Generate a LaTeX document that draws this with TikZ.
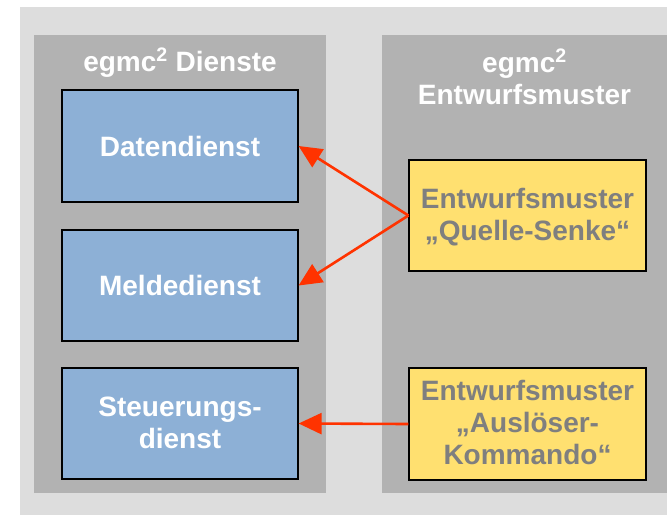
\documentclass[tikz,border=0pt]{standalone}
\usepackage{fontspec}
\setmainfont{Liberation Sans}
\usetikzlibrary{arrows.meta,shadows}
\definecolor{bgl}{HTML}{DDDDDD}
\definecolor{panelgray}{HTML}{B2B2B2}
\definecolor{bluebox}{HTML}{8DB0D6}
\definecolor{yellowbox}{HTML}{FFE070}
\definecolor{txtgray}{HTML}{7F7F7F}
\definecolor{arrowred}{HTML}{FF3300}
\newcommand{\boxtxt}[1]{\raisebox{-2.5pt}[\height][\depth]{\begin{tabular}{@{}c@{}}#1\end{tabular}}}
\begin{document}
\begin{tikzpicture}[x=1pt,y=-1pt,
  txt/.style={font=\bfseries\fontsize{28}{32}\selectfont, inner sep=0pt},
  panelbox/.style={rectangle, fill=panelgray, draw=none, inner sep=0pt},
  titletxt/.style={txt, text=white, anchor=base},
  svcbox/.style={rectangle, draw=black, line width=1.2pt, fill=bluebox,
    minimum width=236pt, minimum height=111pt, txt, text=white,
    drop shadow={shadow xshift=1.2pt, shadow yshift=-1.2pt, fill=black!75, opacity=1}},
  patbox/.style={rectangle, draw=black, line width=1.2pt, fill=yellowbox,
    minimum width=237pt, minimum height=111pt, txt, text=txtgray,
    drop shadow={shadow xshift=1.2pt, shadow yshift=-1.2pt, fill=black!75, opacity=1}},
  arr/.style={draw=arrowred, line width=2.6pt, -{Triangle[length=23pt,width=21pt]}}
]
\useasboundingbox (0,0) rectangle (667,515);
\fill[white] (0,0) rectangle (667,515);
\fill[bgl] (20,7) rectangle (667,515);

% panels
\node[panelbox, minimum width=292pt, minimum height=458pt] (lp) at (180,264) {};
\node[panelbox, minimum width=285pt, minimum height=458pt] (rp) at (524.5,264) {};

% titles
\node[titletxt] (lt) at (180,71) {egmc\textsuperscript{2} Dienste};
\node[titletxt] (rt1) at (524.5,72) {egmc\textsuperscript{2}};
\node[titletxt] (rt2) at (524.5,104) {Entwurfsmuster};

% service boxes
\node[svcbox, minimum height=112pt] (dd) at (180,146) {Datendienst};
\node[svcbox] (md) at (180,285.5) {Meldedienst};
\node[svcbox] (sd) at (180,423.5) {\boxtxt{Steuerungs-\\dienst}};

% pattern boxes
\node[patbox] (qs) at (527.5,215.5) {\boxtxt{Entwurfsmuster\\„Quelle-Senke“}};
\node[patbox, minimum height=112pt] (ak) at (527.5,424) {\boxtxt{Entwurfsmuster\\„Auslöser-\\Kommando“}};

% arrows
\draw[arr] (qs.west) -- (dd.east);
\draw[arr] (qs.west) -- (md.east);
\draw[arr] (ak.west) -- (sd.east);
\end{tikzpicture}
\end{document}
